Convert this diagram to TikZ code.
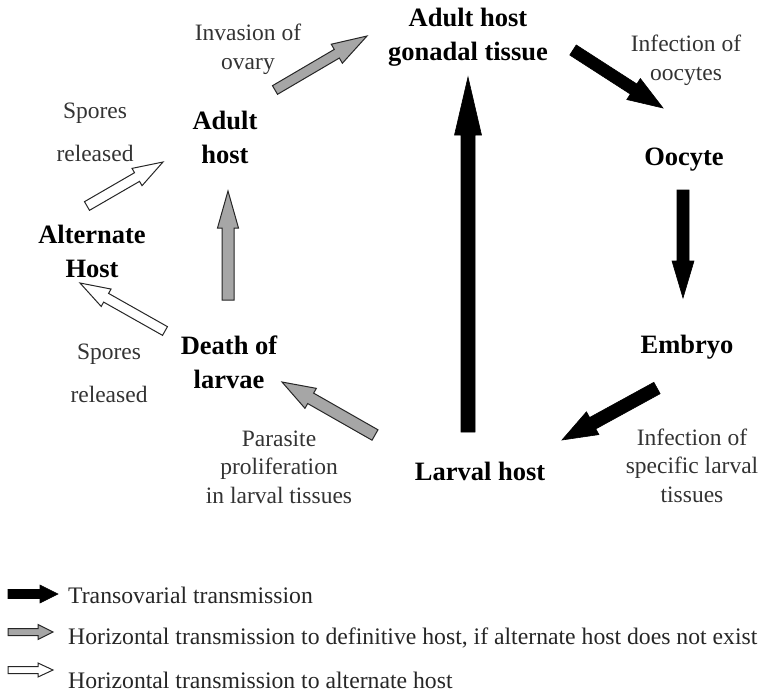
\documentclass[tikz,border=0pt]{standalone}
\usepackage{fontspec}
\setmainfont{Liberation Serif}
\usetikzlibrary{calc}

% block arrow from #2 to #3: shaft half-width #4, head half-width #5, head length #6 (all in pt)
\newcommand\blockarrow[6][]{%
  \path coordinate (ba-h) at ($(#3)!#6pt!(#2)$);
  \draw[#1] ($(#2)!#4pt!90:(#3)$) -- ($(ba-h)!#4pt!-90:(#2)$) -- ($(ba-h)!#5pt!-90:(#2)$)
    -- (#3) -- ($(ba-h)!#5pt!90:(#2)$) -- ($(ba-h)!#4pt!90:(#2)$) -- ($(#2)!#4pt!-90:(#3)$) -- cycle;
}

\tikzset{
  stage/.style={font=\fontsize{26.5}{34}\selectfont\bfseries, align=center, inner sep=0pt},
  note/.style={font=\fontsize{23.5}{28.5}\selectfont, align=center, inner sep=0pt, text=black!80},
  spores/.style={font=\fontsize{23.5}{43}\selectfont, align=center, inner sep=0pt, text=black!80},
  legtext/.style={font=\fontsize{23.7}{28}\selectfont, anchor=west, inner sep=0pt, text=black!85},
  transov/.style={fill=black, draw=black, line width=0.6pt, line join=miter},
  horizdef/.style={fill=black!35, draw=black!85, line width=1pt, line join=miter},
  horizalt/.style={fill=white, draw=black!85, line width=1pt, line join=miter},
}

\begin{document}
\begin{tikzpicture}[x=1pt, y=-1pt]
\useasboundingbox (0,0) rectangle (761,694);

% stages of the cycle
\node[stage] (gonad) at (468,37.5) {Adult host\\gonadal tissue};
\node[stage] (oocyte) at (684,159.5) {Oocyte};
\node[stage] (embryo) at (687,347.5) {Embryo};
\node[stage] (larval) at (480,471) {Larval host};
\node[stage] (death) at (229,362) {Death of\\larvae};
\node[stage] (adult) at (225,137.5) {Adult\\host};
\node[stage] (alt) at (92,251) {Alternate\\Host};

% notes on the transitions
\node[note] (ovary) at (248,49.5) {Invasion of\\ovary};
\node[note] (infoo) at (686,60.5) {Infection of\\oocytes};
\node[note] (infla) at (692,465.5) {Infection of\\specific larval\\tissues};
\node[note] (prolif) at (279,467) {Parasite\\proliferation\\in larval tissues};
\node[spores] (spup) at (95,132) {Spores\\released};
\node[spores] (spdown) at (109,373) {Spores\\released};

% arrow end points
\coordinate (a1s) at (275,90);  \coordinate (a1e) at (367,36);
\coordinate (a2s) at (573,50);  \coordinate (a2e) at (663,108);
\coordinate (a3s) at (468,432); \coordinate (a3e) at (468,77);
\coordinate (a4s) at (683,190); \coordinate (a4e) at (683,298);
\coordinate (a5s) at (657,388); \coordinate (a5e) at (562,440);
\coordinate (a6s) at (375,435); \coordinate (a6e) at (282,382);
\coordinate (a7s) at (228,300); \coordinate (a7e) at (228,191);
\coordinate (a8s) at (87,206);  \coordinate (a8e) at (163,162);
\coordinate (a9s) at (165,331); \coordinate (a9e) at (80,283);

% transovarial route
\blockarrow[transov]{a2s}{a2e}{6}{12.5}{35}
\blockarrow[transov]{a3s}{a3e}{7}{13.5}{58}
\blockarrow[transov]{a4s}{a4e}{6}{11}{37}
\blockarrow[transov]{a5s}{a5e}{6.5}{13}{35}

% horizontal route to the definitive host
\blockarrow[horizdef]{a1s}{a1e}{5}{11}{35}
\blockarrow[horizdef]{a6s}{a6e}{6}{11.5}{33}
\blockarrow[horizdef]{a7s}{a7e}{6}{10.5}{37}

% horizontal route to the alternate host
\blockarrow[horizalt]{a8s}{a8e}{5}{10}{30}
\blockarrow[horizalt]{a9s}{a9e}{5}{10}{30}

% legend
\coordinate (l1s) at (8,594);  \coordinate (l1e) at (58,594);
\coordinate (l2s) at (8,632);  \coordinate (l2e) at (53,632);
\coordinate (l3s) at (8,670);  \coordinate (l3e) at (53,670);
\blockarrow[transov]{l1s}{l1e}{4.5}{9}{18}
\blockarrow[horizdef]{l2s}{l2e}{3.5}{7.5}{15}
\blockarrow[horizalt]{l3s}{l3e}{3.5}{7}{15}
\node[legtext] (t1) at (68,595) {Transovarial transmission};
\node[legtext] (t2) at (68,638) {Horizontal transmission to definitive host, if alternate host does not exist};
\node[legtext] (t3) at (68,680) {Horizontal transmission to alternate host};
\end{tikzpicture}
\end{document}
